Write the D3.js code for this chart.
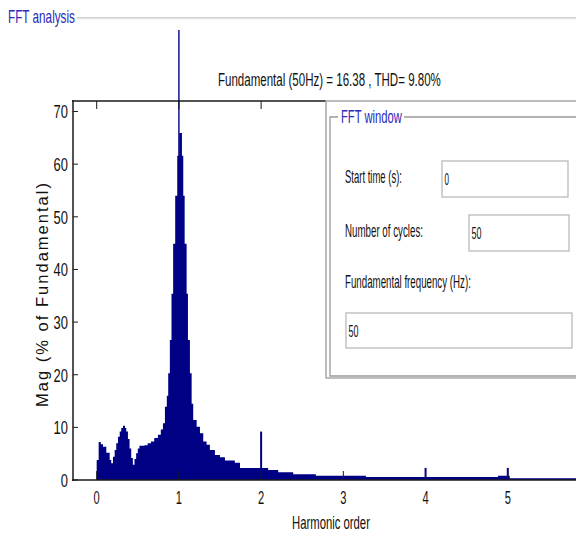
<!DOCTYPE html>
<meta charset="utf-8">
<style>
  body { margin: 0; background: #fff; }
  text { font-family: "Liberation Sans", Arial, sans-serif; fill: #111; }
</style>
<body>
<svg width="576" height="533"></svg>
<script src="https://cdnjs.cloudflare.com/ajax/libs/d3/7.8.5/d3.min.js"></script>
<script>

// spectrum: each value holds from its harmonic to the next one
var harmonic = [0, 0.024, 0.05, 0.077, 0.117, 0.158, 0.177, 0.198, 0.219, 0.238, 0.259, 0.28, 0.299, 0.32,
    0.344, 0.36, 0.38, 0.40, 0.42, 0.44, 0.46, 0.48, 0.50, 0.52, 0.58, 0.62, 0.66, 0.70, 0.745, 0.78,
    0.806, 0.83, 0.853, 0.87, 0.89, 0.91, 0.93, 0.955, 0.98, 1.004, 1.037, 1.053, 1.07, 1.094, 1.11,
    1.134, 1.155, 1.174, 1.216, 1.256, 1.296, 1.337, 1.377, 1.438, 1.499, 1.56, 1.68, 1.743, 2.086,
    2.208, 2.39, 2.666, 3.274, 4.882, 5.024, 6.0];
var mag = [3.8, 7.2, 6.8, 6.3, 5.2, 3.8, 3.2, 4.4, 5.7, 7.0, 8.2, 9.2, 9.9, 10.3,
    9.9, 9.2, 7.8, 6.0, 4.2, 2.9, 4.0, 5.1, 6.0, 6.5, 6.6, 7.0, 7.3, 8.0, 8.6, 9.6,
    10.8, 13.9, 16.0, 20.3, 26.6, 35.4, 44.9, 54, 61.6, 65.9, 61.6, 54, 44.9, 35.4, 26.6,
    20.3, 14.5, 11.4, 10.1, 8.9, 7.3, 6.7, 5.7, 4.75, 4.3, 3.7, 3.3, 2.3, 1.9,
    1.45, 1.1, 0.8, 0.57, 0.8, 0.32, 0.32];

// thin harmonic lines
var spikeHarmonic = [1, 2, 4, 5];
var spikeMag = [85.5, 9.2, 2.3, 2.3];

var yTicks = [0, 10, 20, 30, 40, 50, 60, 70];
var xTicks = [0, 1, 2, 3, 4, 5];

var fieldLabels = ["Start time (s):", "Number of cycles:", "Fundamental frequency (Hz):"];
var fieldValues = ["0", "50", "50"];

var svg = d3.select("svg");
var navy = "#000085";
var titleBlue = "#2a2ab8";

var x = d3.scaleLinear().domain([-0.288, 6.0]).range([73, 590]);
var y = d3.scaleLinear().domain([0, 72]).range([480, 101]);

var pts = harmonic.map(function(h, i) { return [h, mag[i]]; });

// the screenshot's text is tall and condensed: draw it, measure it,
// then scale it horizontally to the width seen in the picture
function narrowText(parent, str, x0, y0, w, size, anchor, color) {
    var t = parent.append("text").attr("x", 0).attr("y", 0)
        .attr("font-size", size).text(str);
    if (color) t.style("fill", color);
    var n = t.node().getComputedTextLength();
    var left = x0;
    if (anchor == "end") left = x0 - w;
    if (anchor == "middle") left = x0 - w / 2;
    t.attr("transform", "translate(" + left + "," + y0 + ") scale(" + (w / n) + ",1)");
    return t;
}

// outer "FFT analysis" frame
svg.append("line").attr("x1", 77).attr("x2", 576).attr("y1", 18).attr("y2", 18)
    .attr("stroke", "#a0a0a0").attr("stroke-width", 1);
svg.append("line").attr("x1", 77).attr("x2", 576).attr("y1", 19).attr("y2", 19)
    .attr("stroke", "#f4f4f4").attr("stroke-width", 1);
narrowText(svg, "FFT analysis", 8, 23, 67, 18.5, "start", titleBlue);

narrowText(svg, "Fundamental (50Hz) = 16.38 , THD= 9.80%", 218, 85.5, 223, 18.5);

// spectrum
var area = d3.area()
    .curve(d3.curveStepAfter)
    .x(function(d) { return x(d[0]); })
    .y0(y(0))
    .y1(function(d) { return y(d[1]); });

svg.append("path").datum(pts)
    .attr("d", area)
    .attr("fill", navy);

svg.selectAll(".spike")
    .data(spikeHarmonic)
    .enter().append("line")
    .attr("class", "spike")
    .attr("x1", function(d) { return x(d); })
    .attr("x2", function(d) { return x(d); })
    .attr("y1", y(0))
    .attr("y2", function(d, i) { return y(spikeMag[i]); })
    .attr("stroke", navy)
    .attr("stroke-width", function(d, i) { return i == 0 ? 1.4 : 2; });

// axes box
var ax = svg.append("g").attr("stroke", "#1a1a1a").attr("stroke-width", 1.5);
ax.append("line").attr("x1", 73).attr("x2", 73).attr("y1", 100).attr("y2", 481);
ax.append("line").attr("x1", 72).attr("x2", 576).attr("y1", 480).attr("y2", 480);
ax.append("line").attr("x1", 72).attr("x2", 326).attr("y1", 101).attr("y2", 101);

// ticks pointing inward
svg.append("g").selectAll("line").data(yTicks).enter().append("line")
    .attr("x1", 73).attr("x2", 78)
    .attr("y1", function(d) { return y(d); }).attr("y2", function(d) { return y(d); })
    .attr("stroke", "#1a1a1a").attr("stroke-width", 1);
svg.append("g").selectAll("line").data(xTicks).enter().append("line")
    .attr("x1", function(d) { return x(d); }).attr("x2", function(d) { return x(d); })
    .attr("y1", 480).attr("y2", 471)
    .attr("stroke", "#1a1a1a").attr("stroke-width", 1);
svg.append("g").selectAll("line").data(xTicks.filter(function(d) { return x(d) < 326; })).enter().append("line")
    .attr("x1", function(d) { return x(d); }).attr("x2", function(d) { return x(d); })
    .attr("y1", 101).attr("y2", 109)
    .attr("stroke", "#1a1a1a").attr("stroke-width", 1);

var yLab = svg.append("g");
yTicks.forEach(function(d) {
    narrowText(yLab, String(d), 68, y(d) + 6.8, 7.2 * String(d).length, 19, "end");
});
var xLab = svg.append("g");
xTicks.forEach(function(d) {
    narrowText(xLab, String(d), x(d), 504, 6.2, 19, "middle");
});

narrowText(svg, "Harmonic order", 292, 529, 78, 18);

svg.append("text")
    .attr("transform", "translate(48,407) rotate(-90)")
    .attr("font-size", 16.5)
    .attr("textLength", 224).attr("lengthAdjust", "spacing")
    .text("Mag (% of Fundamental)");

// FFT window panel
var panel = svg.append("g");
panel.append("rect").attr("x", 326).attr("y", 101).attr("width", 260).attr("height", 277)
    .attr("fill", "#fff").attr("stroke", "#a8a8a8").attr("stroke-width", 1.5);
panel.append("path")
    .attr("d", "M338,117 H330 V376 H576 M404,117 H576")
    .attr("fill", "none").attr("stroke", "#9a9a9a").attr("stroke-width", 1.3);
narrowText(panel, "FFT window", 341, 123, 61, 19, "start", titleBlue);

var labelPos = [[345, 183, 57], [345, 237, 78], [345, 287.5, 126]];
var boxPos = [[442, 161, 126, 36], [469, 215, 100, 36], [346, 313, 226, 35]];
var valueW = [4.5, 10, 10];

fieldLabels.forEach(function(t, i) {
    narrowText(panel, t, labelPos[i][0], labelPos[i][1], labelPos[i][2], 17.5);
    var b = boxPos[i];
    panel.append("rect").attr("x", b[0]).attr("y", b[1]).attr("width", b[2]).attr("height", b[3])
        .attr("fill", "#fff").attr("stroke", "#b4b4b4").attr("stroke-width", 1.2);
    narrowText(panel, fieldValues[i], b[0] + 2.5, b[1] + b[3] / 2 + 6, valueW[i], 17);
});

</script>
</body>
